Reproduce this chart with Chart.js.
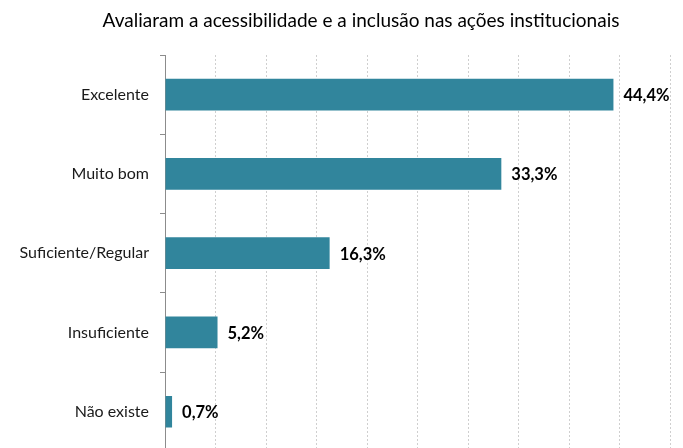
<!DOCTYPE html>
<html>
<head>
<meta charset="utf-8">
<script src="https://cdn.jsdelivr.net/npm/chart.js@4"></script>
<style>
html,body{margin:0;padding:0;background:#fff;overflow:hidden;width:683px;height:448px;}
#wrap{position:relative;width:683px;height:472px;}
</style>
</head>
<body>
<div id="wrap"><canvas id="c" width="683" height="472"></canvas></div>
<script>
const titleText = "Avaliaram a acessibilidade e a inclusão nas ações institucionais";
const categories = ["Excelente", "Muito bom", "Suficiente/Regular", "Insuficiente", "Não existe"];
const values = [44.4, 33.3, 16.3, 5.2, 0.7];
const xMax = 50;
const xStep = 5;

const fmt = v => v.toFixed(1).replace('.', ',') + '%';

const extras = {
  id: 'extras',
  afterDatasetsDraw(chart) {
    const ctx = chart.ctx;
    const meta = chart.getDatasetMeta(0);
    ctx.save();
    ctx.font = 'bold 16.5px Lato, "Open Sans", sans-serif';
    ctx.fillStyle = '#000';
    ctx.textAlign = 'left';
    ctx.textBaseline = 'middle';
    meta.data.forEach((bar, i) => {
      ctx.fillText(fmt(values[i]), bar.x + 10, bar.y + 1);
    });
    ctx.font = '19px Lato, "Open Sans", sans-serif';
    ctx.fillStyle = '#000';
    ctx.textAlign = 'center';
    ctx.fillText(titleText, 361, 21);
    ctx.restore();
  }
};

new Chart(document.getElementById('c'), {
  type: 'bar',
  data: {
    labels: categories,
    datasets: [{
      data: values,
      backgroundColor: '#31859C',
      borderWidth: 0,
      categoryPercentage: 1.0,
      barPercentage: 0.4
    }]
  },
  options: {
    indexAxis: 'y',
    responsive: false,
    animation: false,
    layout: { padding: { top: 55, right: 13, left: 0, bottom: 2 } },
    plugins: { legend: { display: false }, title: { display: false }, tooltip: { enabled: false } },
    scales: {
      x: {
        min: 0, max: xMax,
        ticks: { display: false, stepSize: xStep },
        border: { display: false, dash: [2, 2] },
        grid: { color: '#CFCFCF', lineWidth: 1, drawTicks: false },
        afterFit(s) { s.height = 0; }
      },
      y: {
        offset: true,
        ticks: { color: '#1a1a1a', font: { family: 'Lato, "Open Sans", sans-serif', size: 16 }, padding: 11 },
        grid: { display: true, drawOnChartArea: false, drawTicks: true, tickLength: 5, color: '#8c8c8c', offset: true },
        border: { display: true, color: '#8c8c8c', width: 1 },
        afterFit(s) { s.width = 165; }
      }
    }
  },
  plugins: [extras]
});
</script>
</body>
</html>
